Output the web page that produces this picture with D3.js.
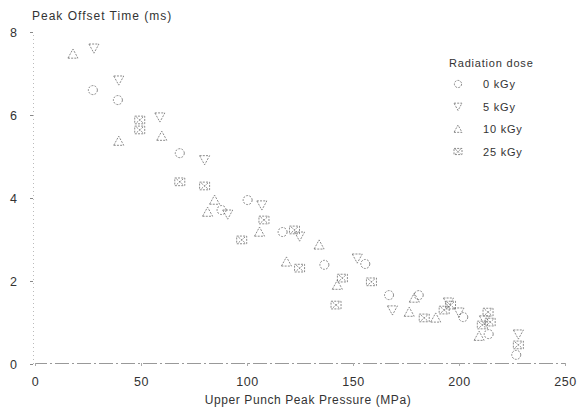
<!DOCTYPE html>
<html>
<head>
<meta charset="utf-8">
<script src="https://cdn.jsdelivr.net/npm/d3@7"></script>
<style>
  body { margin: 0; background: #fff; }
  text { font-family: "Liberation Sans", Arial, sans-serif; fill: #333; }
</style>
</head>
<body>
<svg width="583" height="408"></svg>
<script>
// Données
const doses = ["0 kGy", "5 kGy", "10 kGy", "25 kGy"];
const symboles = ["circle", "down", "up", "boxx"];

const dose0 = [[27.3, 6.60], [39.1, 6.36], [68.3, 5.08], [88, 3.71], [100.3, 3.95], [116.8, 3.18],
  [136.5, 2.39], [155.8, 2.41], [167, 1.66], [181, 1.66], [202, 1.13], [214, 0.72], [227, 0.22]];
const dose5 = [[27.8, 7.61], [39.5, 6.84], [58.9, 5.95], [80, 4.92], [90.9, 3.61], [107, 3.83],
  [124.8, 3.08], [152, 2.55], [168.6, 1.30], [195, 1.49], [200, 1.25], [212, 1.06], [228, 0.72]];
const dose10 = [[17.9, 7.47], [39.5, 5.37], [59.8, 5.49], [84.7, 3.95], [81.4, 3.66], [105.9, 3.18],
  [118.6, 2.46], [134, 2.87], [142.6, 1.90], [176.5, 1.25], [178.9, 1.59], [189, 1.11], [209.5, 0.67]];
const dose25 = [[49.4, 5.88], [49.4, 5.64], [68.3, 4.39], [80, 4.29], [97.5, 2.99], [108, 3.47],
  [122.4, 3.23], [124.8, 2.31], [145, 2.07], [142, 1.42], [158.7, 1.98], [183.6, 1.11], [193, 1.30],
  [196, 1.42], [211, 0.94], [213.7, 1.25], [214.7, 1.01], [228, 0.46]];

const xTicks = [0, 50, 100, 150, 200, 250];
const yTicks = [0, 2, 4, 6, 8];

const series = [dose0, dose5, dose10, dose25];

const svg = d3.select("svg");

// Echelles
const x = d3.scaleLinear().domain([0, 250]).range([35, 565]);
const y = d3.scaleLinear().domain([0, 8]).range([364, 32]);

// Axes
const xAxis = svg.append("g")
  .attr("transform", "translate(0,363)")
  .call(d3.axisBottom(x).tickValues(xTicks).tickSize(3).tickPadding(11));
xAxis.select(".domain").attr("stroke", "#999").attr("stroke-dasharray", "14 3 2 3");
xAxis.selectAll(".tick line").attr("stroke", "#aaa");
xAxis.selectAll("text").style("font-size", "12.5px").attr("fill", "#333")
  .style("letter-spacing", "0.5px");

const yAxis = svg.append("g")
  .attr("transform", "translate(33,0)")
  .call(d3.axisLeft(y).tickValues(yTicks).tickSize(3).tickPadding(13));
yAxis.select(".domain").attr("stroke", "#bbb").attr("stroke-dasharray", "1 3");
yAxis.selectAll(".tick line").attr("stroke", "#888");
yAxis.selectAll("text").style("font-size", "12.5px").attr("fill", "#333");

// Titres
svg.append("text")
  .attr("x", 32).attr("y", 20)
  .style("font-size", "12px").style("letter-spacing", "1px")
  .text("Peak Offset Time (ms)");

svg.append("text")
  .attr("x", 308).attr("y", 404)
  .attr("text-anchor", "middle")
  .style("font-size", "12px").style("letter-spacing", "0.6px")
  .text("Upper Punch Peak Pressure (MPa)");

// Symboles
function symbole(g, type, cx, cy, s) {
  const st = (sel) => sel.attr("fill", "none").attr("stroke", "#666")
    .attr("stroke-width", 1).attr("stroke-dasharray", "2 1.2").attr("opacity", 0.75);
  if (type === "circle") {
    st(g.append("circle").attr("cx", cx).attr("cy", cy).attr("r", s * 0.45));
  } else if (type === "down") {
    st(g.append("path").attr("d", `M${cx - s / 2},${cy - s / 2.4}H${cx + s / 2}L${cx},${cy + s / 2}Z`));
  } else if (type === "up") {
    st(g.append("path").attr("d", `M${cx - s / 2},${cy + s / 2.4}H${cx + s / 2}L${cx},${cy - s / 2}Z`));
  } else {
    st(g.append("rect").attr("x", cx - s / 2).attr("y", cy - s / 2.6).attr("width", s).attr("height", s / 1.3));
    st(g.append("path").attr("d", `M${cx - s / 3},${cy - s / 3.5}L${cx + s / 3},${cy + s / 3.5}M${cx + s / 3},${cy - s / 3.5}L${cx - s / 3},${cy + s / 3.5}`));
  }
}

const points = svg.append("g");
series.forEach((data, i) => {
  data.forEach(d => symbole(points, symboles[i], x(d[0]), y(d[1]), 10));
});

// Légende
const leg = svg.append("g");
leg.append("text").attr("x", 449).attr("y", 67)
  .style("font-size", "11px").style("letter-spacing", "0.8px")
  .text("Radiation dose");
doses.forEach((nom, i) => {
  const yy = 88 + i * 22.5;
  symbole(leg, symboles[i], 458, yy - 4, 8);
  leg.append("text").attr("x", 483).attr("y", yy)
    .style("font-size", "11px").style("letter-spacing", "0.8px")
    .text(nom);
});
</script>
</body>
</html>
